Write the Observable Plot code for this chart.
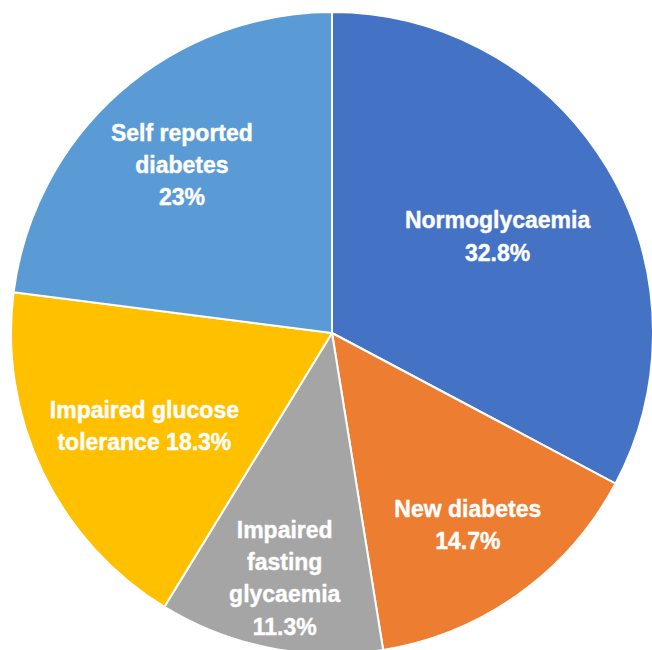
<!DOCTYPE html>
<html><head><meta charset="utf-8">
<script src="https://cdn.jsdelivr.net/npm/d3@7"></script>
<script src="https://cdn.jsdelivr.net/npm/@observablehq/plot@0.6"></script>
<style>body{margin:0;background:#fff}</style>
</head><body><div id="chart"></div>
<script>
const categories = ["Normoglycaemia", "New diabetes", "Impaired fasting glycaemia", "Impaired glucose tolerance", "Self reported diabetes"];
const values = [32.8, 14.7, 11.3, 18.3, 23];
const labels = ["Normoglycaemia\n32.8%", "New diabetes\n14.7%", "Impaired\nfasting\nglycaemia\n11.3%", "Impaired glucose\ntolerance 18.3%", "Self reported\ndiabetes\n23%"];
const colors = ["#4472C4", "#ED7D31", "#A5A5A5", "#FFC000", "#5B9BD5"];
// label distance from centre, as a fraction of the radius
const labelRadius = [0.6, 0.724, 0.77, 0.65, 0.71];

const data = categories.map((c, i) => ({category: c, value: values[i], label: labels[i]}));
const arcs = d3.pie().value(d => d.value).sort(null)(data);
const labelData = arcs.map((a, i) => {
  const ang = (a.startAngle + a.endAngle) / 2;
  return {...a.data, x: labelRadius[i] * Math.sin(ang), y: labelRadius[i] * Math.cos(ang)};
});
const colorOf = d3.scaleOrdinal(categories, colors);

function pieMark(index, scales) {
  const cx = scales.x(0), cy = scales.y(0), r = scales.x(1) - cx;
  const fill = scales.color || colorOf;
  const g = d3.create("svg:g").attr("transform", `translate(${cx},${cy})`);
  const arc = d3.arc().innerRadius(0).outerRadius(r);
  g.selectAll("path").data(arcs).join("path")
    .attr("d", arc)
    .attr("fill", d => fill(d.data.category))
    .attr("stroke", "white")
    .attr("stroke-width", 2)
    .attr("stroke-linejoin", "round");
  return g.node();
}

const chart = Plot.plot({
  width: 652,
  height: 650,
  margin: 0,
  style: {fontFamily: "Liberation Sans", background: "white"},
  x: {domain: [-1, 1], range: [11, 653], axis: null},
  y: {domain: [-1, 1], range: [654, 12], axis: null},
  color: {domain: categories, range: colors},
  marks: [
    pieMark,
    Plot.text(labelData, {
      x: "x", y: "y", text: "label",
      fill: "white", stroke: "white", strokeWidth: 0.4,
      fontSize: 23, fontWeight: "bold",
      fontFamily: "Liberation Sans", lineHeight: 1.4
    })
  ]
});
document.getElementById("chart").appendChild(chart);
</script>
</body></html>
